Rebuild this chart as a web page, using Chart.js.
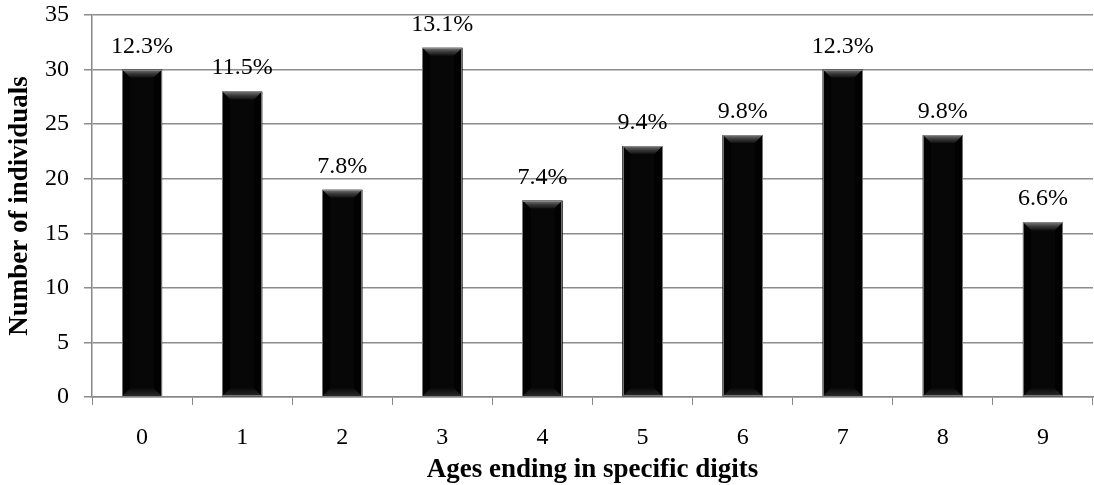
<!DOCTYPE html>
<html>
<head>
<meta charset="utf-8">
<script src="https://cdn.jsdelivr.net/npm/chart.js@4/dist/chart.umd.min.js"></script>
<style>
html,body{margin:0;padding:0;background:#fff;}
#wrap{width:1094px;height:485px;}
</style>
</head>
<body>
<div id="wrap"><canvas id="c" width="1094" height="485"></canvas></div>
<script>
const categories = ['0','1','2','3','4','5','6','7','8','9'];
const counts = [30, 28, 19, 32, 18, 23, 24, 30, 24, 16];
const percentLabels = ['12.3%','11.5%','7.8%','13.1%','7.4%','9.4%','9.8%','12.3%','9.8%','6.6%'];
const yTicks = [0,5,10,15,20,25,30,35];

const FONT = '"Liberation Serif", "Times New Roman", serif';

const bevelPlugin = {
  id: 'bevel',
  afterDatasetsDraw(chart) {
    const ctx = chart.ctx;
    const meta = chart.getDatasetMeta(0);
    meta.data.forEach((bar, i) => {
      const w = bar.width;
      const x0 = bar.x - w/2, x1 = bar.x + w/2;
      const y0 = bar.y, yb = bar.base;
      const b = 8;
      ctx.save();
      let g = ctx.createLinearGradient(0, y0, 0, y0 + b);
      g.addColorStop(0, '#7a7a7a');
      g.addColorStop(0.5, '#3a3a3a');
      g.addColorStop(1, '#111');
      ctx.fillStyle = g;
      ctx.beginPath();
      ctx.moveTo(x0, y0); ctx.lineTo(x1, y0); ctx.lineTo(x1 - b, y0 + b); ctx.lineTo(x0 + b, y0 + b); ctx.closePath();
      ctx.fill();
      g = ctx.createLinearGradient(0, yb - b, 0, yb);
      g.addColorStop(0, '#0a0a0a');
      g.addColorStop(1, '#2a2a2a');
      ctx.fillStyle = g;
      ctx.beginPath();
      ctx.moveTo(x0 + b, yb - b); ctx.lineTo(x1 - b, yb - b); ctx.lineTo(x1, yb); ctx.lineTo(x0, yb); ctx.closePath();
      ctx.fill();
      ctx.fillStyle = '#020202';
      ctx.beginPath();
      ctx.moveTo(x0, y0); ctx.lineTo(x0 + b, y0 + b); ctx.lineTo(x0 + b, yb - b); ctx.lineTo(x0, yb); ctx.closePath();
      ctx.fill();
      ctx.beginPath();
      ctx.moveTo(x1, y0); ctx.lineTo(x1 - b, y0 + b); ctx.lineTo(x1 - b, yb - b); ctx.lineTo(x1, yb); ctx.closePath();
      ctx.fill();
      ctx.strokeStyle = 'rgba(140,140,140,0.8)';
      ctx.lineWidth = 1;
      ctx.strokeRect(Math.round(x0) + 0.5, Math.round(y0) + 0.5, Math.round(w) - 1, Math.round(yb - y0) - 1);
      ctx.fillStyle = '#000';
      ctx.font = '24px ' + FONT;
      ctx.textAlign = 'center';
      ctx.textBaseline = 'alphabetic';
      ctx.fillText(percentLabels[i], bar.x, y0 - 17);
      ctx.restore();
    });
  }
};

new Chart(document.getElementById('c'), {
  type: 'bar',
  data: {
    labels: categories,
    datasets: [{
      data: counts,
      backgroundColor: '#070707',
      borderWidth: 0,
      barPercentage: 0.4,
      categoryPercentage: 1.0
    }]
  },
  options: {
    responsive: false,
    animation: false,
    layout: { padding: { top: 15, right: 1, left: 0, bottom: 0 } },
    plugins: { legend: { display: false }, tooltip: { enabled: false } },
    scales: {
      x: {
        afterFit(scale) { scale.height = 88; scale.paddingLeft = 0; scale.paddingRight = 0; },
        grid: { display: true, drawOnChartArea: false, color: '#888', tickLength: 8, offset: true },
        border: { color: '#888', width: 1.5 },
        ticks: { color: '#000', font: { family: FONT, size: 24, lineHeight: 1.2 }, padding: 18 },
        title: { display: true, text: 'Ages ending in specific digits', color: '#000',
                 font: { family: FONT, size: 27, weight: 'bold', lineHeight: 1.0 }, padding: { top: 0, bottom: 1 } }
      },
      y: {
        min: 0, max: 35,
        afterFit(scale) { scale.width = 92; scale.paddingTop = 0; scale.paddingBottom = 0; },
        afterBuildTicks(scale) { scale.ticks = yTicks.map(v => ({ value: v })); },
        grid: { color: '#8c8c8c', lineWidth: 1.5, tickLength: 8 },
        border: { color: '#888', width: 1.5 },
        ticks: { color: '#000', font: { family: FONT, size: 24 }, padding: 15 },
        title: { display: true, text: 'Number of individuals', color: '#000',
                 font: { family: FONT, size: 27, weight: 'bold', lineHeight: 1.2 }, padding: { top: 4, bottom: 6 } }
      }
    }
  },
  plugins: [bevelPlugin]
});
</script>
</body>
</html>
